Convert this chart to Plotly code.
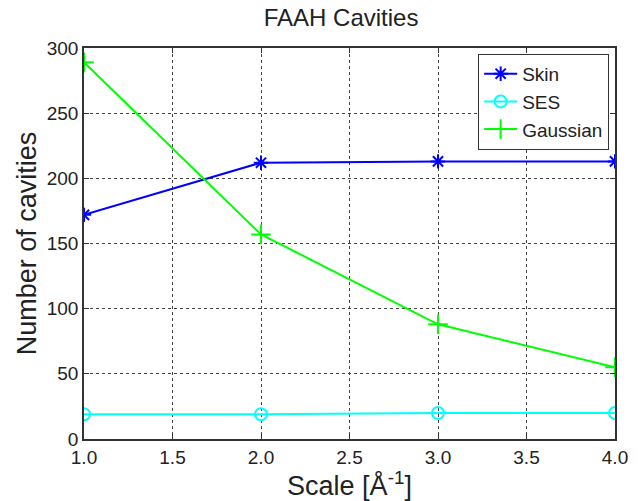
import plotly.graph_objects as go

scale = [1.0, 2.0, 3.0, 4.0]
skin = [172, 212, 213, 213]
ses = [19, 19, 20, 20]
gaussian = [289, 157, 88, 55]

font = "Liberation Sans, Arial, sans-serif"

fig = go.Figure()
fig.add_trace(go.Scatter(x=scale, y=skin, name="Skin", mode="lines+markers",
                         line=dict(color="#0000FF", width=2),
                         marker=dict(symbol="asterisk-open", size=12, line=dict(color="#0000FF", width=2))))
fig.add_trace(go.Scatter(x=scale, y=ses, name="SES", mode="lines+markers",
                         line=dict(color="#00FFFF", width=2),
                         marker=dict(symbol="circle-open", size=12, line=dict(color="#00FFFF", width=2))))
fig.add_trace(go.Scatter(x=scale, y=gaussian, name="Gaussian", mode="lines+markers",
                         line=dict(color="#00FF00", width=2),
                         marker=dict(symbol="cross-thin-open", size=14, line=dict(color="#00FF00", width=2))))

axis_common = dict(showline=True, linecolor="#333333", linewidth=1.5, mirror="ticks",
                   ticks="inside", ticklen=5, tickcolor="#333333",
                   showgrid=True, gridcolor="#444444", griddash="dot", gridwidth=1,
                   zeroline=False, ticklabeloverflow="allow",
                   tickfont=dict(family=font, size=19, color="#222222"))

fig.update_layout(
    width=640, height=501,
    margin=dict(l=84, r=13, t=48, b=62),
    paper_bgcolor="white", plot_bgcolor="white",
    title=dict(text="FAAH Cavities", x=0.533, xanchor="center", y=0.964, yanchor="middle",
               font=dict(family=font, size=24, color="#222222")),
    xaxis=dict(range=[1.0, 4.0], tickvals=[1.0, 1.5, 2.0, 2.5, 3.0, 3.5, 4.0], tickformat=".1f",
               title=dict(text="Scale [Å<sup>-1</sup>]", font=dict(family=font, size=27, color="#222222"), standoff=2),
               **axis_common),
    yaxis=dict(range=[0, 300], tickvals=[0, 50, 100, 150, 200, 250, 300],
               title=dict(text="Number of cavities", font=dict(family=font, size=27, color="#222222"), standoff=2),
               **axis_common),
    legend=dict(x=0.989, y=0.985, xanchor="right", yanchor="top",
                bordercolor="#333333", borderwidth=1, bgcolor="white", itemwidth=33,
                font=dict(family=font, size=19, color="#222222"), tracegroupgap=0),
    showlegend=True,
)

fig.write_html("out.html")
